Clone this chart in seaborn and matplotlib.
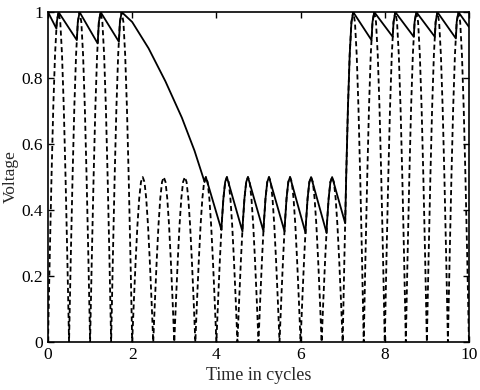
import numpy as np
import pandas as pd
import matplotlib
matplotlib.use("Agg")
import matplotlib.pyplot as plt
import seaborn as sns

# rectified input: one hump per half cycle, peak height of each hump
half_cycle = 0.5
input_peaks = [1.0, 1.0, 1.0, 1.0,
               0.5, 0.5, 0.5, 0.5, 0.5, 0.5, 0.5, 0.5, 0.5, 0.5,
               1.0, 1.0, 1.0, 1.0, 1.0, 1.0]
# shape of one hump (fraction of its peak), 15 degree steps
hump_shape = [0.0, 0.26, 0.5, 0.71, 0.87, 0.97, 1.0, 0.97, 0.87, 0.71, 0.5, 0.26, 0.0]

# detector output: each droop starts at a peak and ends where the next hump catches it
droop_start_t = [0.0, 0.25, 0.75, 1.25, 1.75, 3.75, 4.25, 4.75, 5.25, 5.75,
                 6.25, 6.75, 7.25, 7.75, 8.25, 8.75, 9.25, 9.75]
droop_start_v = [1.0, 1.0, 1.0, 1.0, 1.0, 0.5, 0.5, 0.5, 0.5, 0.5,
                 0.5, 0.5, 1.0, 1.0, 1.0, 1.0, 1.0, 1.0]
droop_end_t = [0.2, 0.685, 1.18, 1.685, 3.72, 4.12, 4.62, 5.12, 5.62, 6.12,
               6.62, 7.06, 7.685, 8.19, 8.69, 9.19, 9.69, 10.0]
droop_end_v = [0.95, 0.915, 0.905, 0.91, 0.485, 0.34, 0.335, 0.335, 0.335, 0.33,
               0.33, 0.36, 0.915, 0.925, 0.925, 0.925, 0.92, 0.955]
# the long droop after the input drops to half (between t=1.75 and 3.72)
long_droop_t = [2.0, 2.39, 2.79, 3.18, 3.48]
long_droop_v = [0.97, 0.89, 0.79, 0.68, 0.58]

x_ticks = [0, 2, 4, 6, 8, 10]
y_ticks = [0, 0.2, 0.4, 0.6, 0.8, 1.0]
y_tick_labels = ["0", "0.2", "0.4", "0.6", "0.8", "1"]

# build the dashed input curve
n = len(hump_shape) - 1
in_t, in_v = [], []
for k, pk in enumerate(input_peaks):
    for j, s in enumerate(hump_shape):
        if k > 0 and j == 0:
            continue
        in_t.append(k * half_cycle + j * half_cycle / n)
        in_v.append(pk * s)
inp = pd.DataFrame({"t": in_t, "v": in_v})

# build the solid output curve: droop lines, then ride up the input to the next peak
out_t, out_v = [], []
for i in range(len(droop_start_t)):
    out_t.append(droop_start_t[i])
    out_v.append(droop_start_v[i])
    if i == 4:
        out_t += long_droop_t
        out_v += long_droop_v
    out_t.append(droop_end_t[i])
    out_v.append(droop_end_v[i])
    if i + 1 < len(droop_start_t):
        nxt = droop_start_t[i + 1]
        for t, v in zip(in_t, in_v):
            if droop_end_t[i] < t < nxt:
                out_t.append(t)
                out_v.append(v)
out = pd.DataFrame({"t": out_t, "v": out_v})

sns.set_style("ticks")
plt.rcParams["font.family"] = ["Liberation Serif", "DejaVu Serif"]

fig, ax = plt.subplots(figsize=(4.8, 3.9), dpi=100)
fig.subplots_adjust(left=0.1, right=0.977, top=0.969, bottom=0.123)

sns.lineplot(data=inp, x="t", y="v", ax=ax, color="black", lw=1.3,
             linestyle=(0, (2.8, 1.8)), estimator=None, sort=False)
sns.lineplot(data=out, x="t", y="v", ax=ax, color="black", lw=1.3,
             estimator=None, sort=False)

ax.set_xlim(0, 10)
ax.set_ylim(0, 1)
ax.set_xticks(x_ticks)
ax.set_yticks(y_ticks)
ax.set_yticklabels(y_tick_labels)
ax.tick_params(direction="in", length=4, width=1, labelsize=12.5,
               top=True, right=True, colors="black")
for sp in ax.spines.values():
    sp.set_visible(True)
    sp.set_linewidth(1.2)
    sp.set_color("black")
ax.set_xlabel("Time in cycles", fontsize=13, labelpad=3)
ax.set_ylabel("Voltage", fontsize=12.5, labelpad=2)

fig.savefig("out.png", dpi=100)
